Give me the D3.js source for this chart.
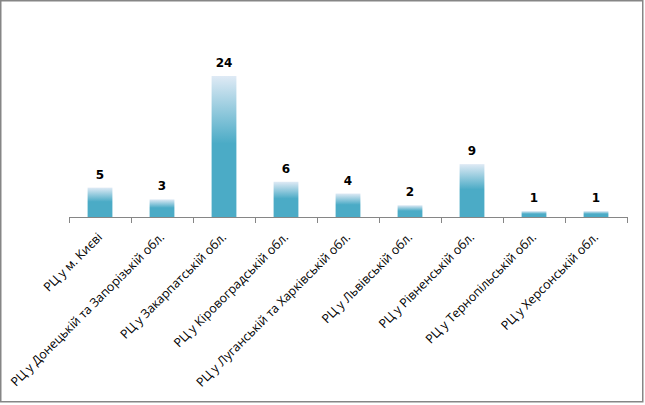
<!DOCTYPE html>
<html>
<head>
<meta charset="utf-8">
<script src="https://cdn.jsdelivr.net/npm/d3@7"></script>
<style>
  html, body { margin: 0; padding: 0; background: #fff; }
  svg { display: block; }
  .lbl { font-family: "Open Sans", sans-serif; font-size: 12.4px; fill: #000; }
  .val { font-family: "DejaVu Sans", sans-serif; font-weight: bold; font-size: 12px; fill: #000; }
</style>
</head>
<body>
<div id="chart"></div>
<script>
// --- data ---
const categories = [
    'РЦ у м. Києві',
    'РЦ у Донецькій та Запорізькій обл.',
    'РЦ у Закарпатській обл.',
    'РЦ у Кіровоградській обл.',
    'РЦ у Луганській та Харківській обл.',
    'РЦ у Львівській обл.',
    'РЦ у Рівненській обл.',
    'РЦ у Тернопільській обл.',
    'РЦ у Херсонській обл.'
];
const values = [5, 3, 24, 6, 4, 2, 9, 1, 1];

const W = 645, H = 405;
const svg = d3.select('#chart').append('svg')
    .attr('width', W)
    .attr('height', H);

// outer frame
svg.append('rect')
    .attr('x', 0.75).attr('y', 0.75)
    .attr('width', 642).attr('height', 401)
    .attr('fill', '#fff')
    .attr('stroke', '#868686')
    .attr('stroke-width', 1.5);

// bar gradient: pale at the top, teal from the middle down
const defs = svg.append('defs');
const grad = defs.append('linearGradient')
    .attr('id', 'barGrad')
    .attr('x1', 0).attr('y1', 0).attr('x2', 0).attr('y2', 1);
grad.append('stop').attr('offset', '0%').attr('stop-color', '#dfeaf5');
grad.append('stop').attr('offset', '48%').attr('stop-color', '#4babc6');
grad.append('stop').attr('offset', '100%').attr('stop-color', '#4babc6');

const x = d3.scaleBand()
    .domain(categories)
    .range([69, 627])
    .paddingInner(0.6)
    .paddingOuter(0.3);

const y = d3.scaleLinear()
    .domain([0, 24])
    .range([217, 76]);

// bars
svg.append('g').selectAll('rect')
    .data(values)
    .enter()
    .append('rect')
    .attr('x', (d, i) => x(categories[i]))
    .attr('y', d => y(d))
    .attr('width', x.bandwidth())
    .attr('height', d => y(0) - y(d))
    .attr('fill', 'url(#barGrad)');

// value labels
svg.append('g').selectAll('text')
    .data(values)
    .enter()
    .append('text')
    .attr('class', 'val')
    .attr('x', (d, i) => x(categories[i]) + x.bandwidth() / 2)
    .attr('y', d => y(d) - 9)
    .attr('text-anchor', 'middle')
    .text(d => d);

// x axis with ticks between categories
const step = x.step();
const axis = svg.append('g');
axis.append('line')
    .attr('x1', 69).attr('x2', 627)
    .attr('y1', 217.5).attr('y2', 217.5)
    .attr('stroke', '#868686');
axis.selectAll('.tick')
    .data(d3.range(categories.length + 1))
    .enter()
    .append('line')
    .attr('x1', i => Math.round(69 + i * step) + 0.5)
    .attr('x2', i => Math.round(69 + i * step) + 0.5)
    .attr('y1', 217).attr('y2', 223)
    .attr('stroke', '#868686');

// rotated category labels
svg.append('g').selectAll('text')
    .data(categories)
    .enter()
    .append('text')
    .attr('class', 'lbl')
    .attr('text-anchor', 'end')
    .attr('transform', d => `translate(${x(d) + x.bandwidth() / 2 + 3},${238}) rotate(-45)`)
    .text(d => d);
</script>
</body>
</html>
